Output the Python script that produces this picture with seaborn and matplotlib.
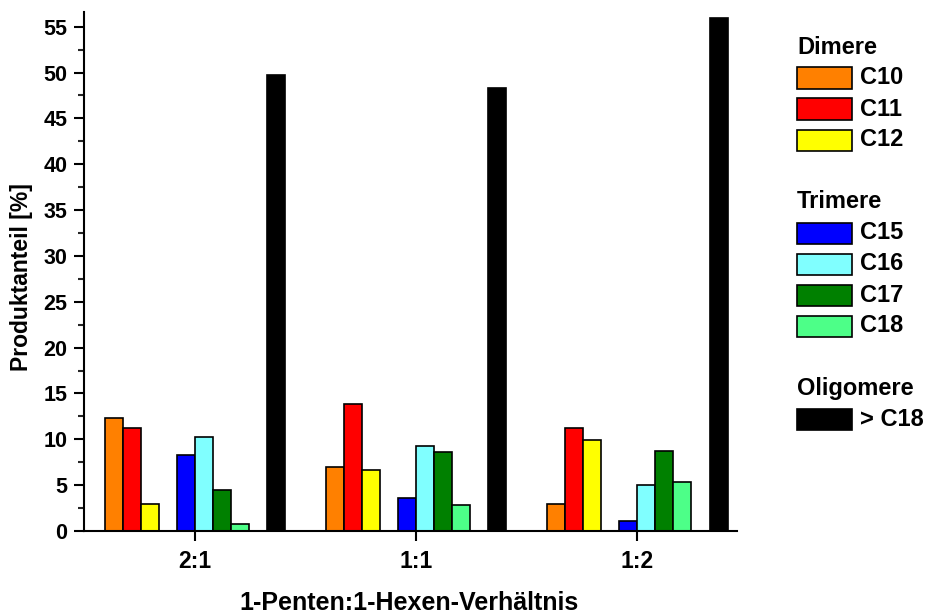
import matplotlib
matplotlib.use("Agg")
import numpy as np
import pandas as pd
import matplotlib.pyplot as plt
import seaborn as sns
from matplotlib.patches import Rectangle
from matplotlib.ticker import MultipleLocator

# Werte
ratios = ["2:1", "1:1", "1:2"]
products = ["C10", "C11", "C12", "C15", "C16", "C17", "C18", "> C18"]
c10 = [12.3, 7.0, 2.9]
c11 = [11.2, 13.9, 11.2]
c12 = [2.9, 6.6, 9.9]
c15 = [8.3, 3.6, 1.1]
c16 = [10.3, 9.3, 5.0]
c17 = [4.5, 8.6, 8.7]
c18 = [0.8, 2.8, 5.3]
oligo = [49.7, 48.3, 56.0]

colors = ["#ff8000", "#ff0000", "#ffff00", "#0000ff", "#80ffff",
          "#008000", "#4dff88", "#000000"]
legend_groups = [("Dimere", ["C10", "C11", "C12"]),
                 ("Trimere", ["C15", "C16", "C17", "C18"]),
                 ("Oligomere", ["> C18"])]

values = [c10, c11, c12, c15, c16, c17, c18, oligo]
rows = []
for prod, vals in zip(products, values):
    for r, v in zip(ratios, vals):
        rows.append({"ratio": r, "product": prod, "value": v})
df = pd.DataFrame(rows)

# leere Stufen als Abstand zwischen Dimeren/Trimeren/Oligomeren
hue_order = ["C10", "C11", "C12", "_gap1", "C15", "C16", "C17", "C18", "_gap2", "> C18"]
palette = dict(zip(products, colors))
palette["_gap1"] = "white"
palette["_gap2"] = "white"

sns.set_style("ticks")
plt.rcParams["font.family"] = ["Liberation Sans", "DejaVu Sans"]
plt.rcParams["font.weight"] = "bold"
plt.rcParams["text.color"] = "black"
plt.rcParams["axes.labelcolor"] = "black"

W, H = 926, 614
fig = plt.figure(figsize=(W / 100, H / 100), dpi=100)
ax = fig.add_axes([84 / W, 1 - 531 / H, (737 - 84) / W, (531 - 12) / H])

sns.barplot(data=df, x="ratio", y="value", hue="product", order=ratios,
            hue_order=hue_order, palette=palette, width=10 * 18 / 221,
            edgecolor="black", linewidth=1.2, saturation=1, errorbar=None,
            legend=False, ax=ax)

ax.set_xlim(-0.5, 2.45)
ax.set_ylim(0, 56.6)
ax.yaxis.set_major_locator(MultipleLocator(5))
ax.yaxis.set_minor_locator(MultipleLocator(2.5))
sns.despine(ax=ax)
for s in ["left", "bottom"]:
    ax.spines[s].set_linewidth(1.5)
    ax.spines[s].set_color("black")
ax.tick_params(axis="both", which="major", direction="out", length=7, width=1.5,
               colors="black")
ax.tick_params(axis="y", which="major", labelsize=15.5, pad=5)
ax.tick_params(axis="x", which="major", labelsize=16.5, pad=7)
ax.tick_params(axis="y", which="minor", direction="out", length=4, width=1.5)
for lab in ax.get_xticklabels() + ax.get_yticklabels():
    lab.set_fontweight("bold")
ax.set_xlabel("1-Penten:1-Hexen-Verhältnis", fontsize=18, fontweight="bold")
ax.xaxis.set_label_coords((409 - 84) / (737 - 84), -(610 - 531) / (531 - 12))
ax.xaxis.label.set_va("baseline")
ax.set_ylabel("Produktanteil [%]", fontsize=16.5, fontweight="bold")
ax.yaxis.set_label_coords(-(84 - 22) / (737 - 84), (531 - 277) / (531 - 12))
ax.yaxis.label.set_va("center")

# Legende rechts, mit Gruppenüberschriften
y = 47
for title, items in legend_groups:
    fig.text(797 / W, 1 - y / H, title, fontsize=17, fontweight="bold", va="center", ha="left")
    for item in items:
        y += 31
        fig.add_artist(Rectangle((797 / W, 1 - (y + 10.5) / H), 55 / W, 21 / H,
                                 transform=fig.transFigure, facecolor=palette[item],
                                 edgecolor="black", linewidth=1.2))
        fig.text(860 / W, 1 - y / H, item, fontsize=17, fontweight="bold", va="center", ha="left")
    y += 62

fig.savefig("out.png", dpi=100)
